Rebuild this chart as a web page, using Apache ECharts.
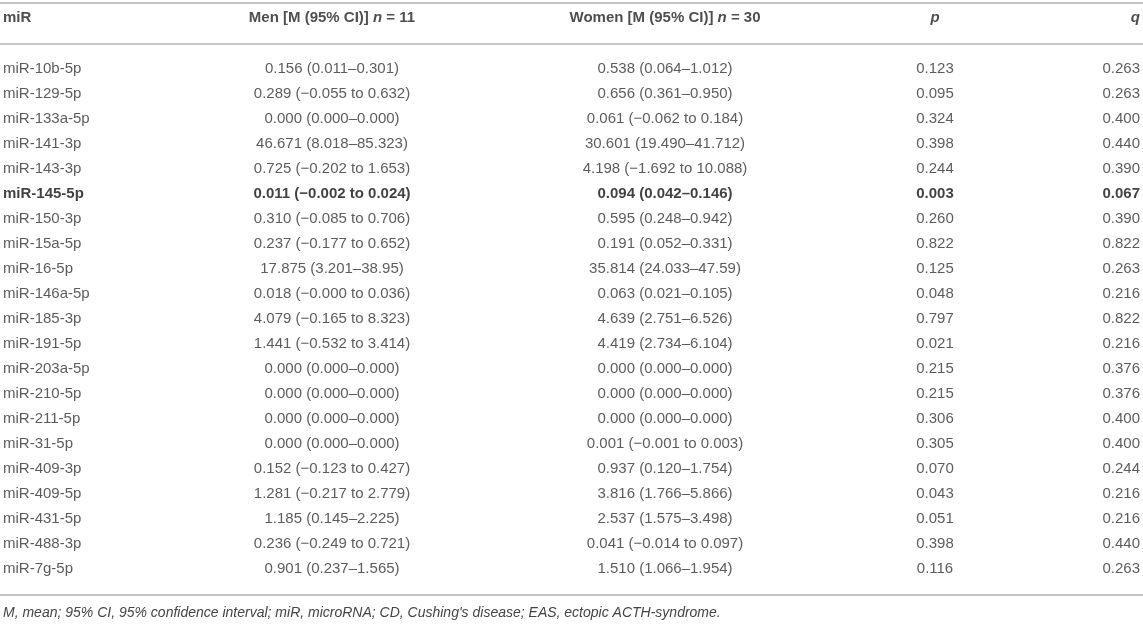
<!DOCTYPE html>
<html>
<head>
<meta charset="utf-8">
<script src="https://cdn.jsdelivr.net/npm/echarts@6/dist/echarts.min.js"></script>
<style>
  html, body { margin: 0; padding: 0; background: #fff; }
  #container { width: 1143px; height: 624px; }
</style>
</head>
<body>
<div id="container"></div>
<script>
// table data
var headers = ['miR', 'Men [M (95% CI)] {i|n} = 11', 'Women [M (95% CI)] {i|n} = 30', '{i|p}', '{i|q}'];

var mirs = ['miR-10b-5p', 'miR-129-5p', 'miR-133a-5p', 'miR-141-3p', 'miR-143-3p', 'miR-145-5p',
    'miR-150-3p', 'miR-15a-5p', 'miR-16-5p', 'miR-146a-5p', 'miR-185-3p', 'miR-191-5p',
    'miR-203a-5p', 'miR-210-5p', 'miR-211-5p', 'miR-31-5p', 'miR-409-3p', 'miR-409-5p',
    'miR-431-5p', 'miR-488-3p', 'miR-7g-5p'];

var men = ['0.156 (0.011–0.301)', '0.289 (−0.055 to 0.632)', '0.000 (0.000–0.000)', '46.671 (8.018–85.323)',
    '0.725 (−0.202 to 1.653)', '0.011 (−0.002 to 0.024)', '0.310 (−0.085 to 0.706)', '0.237 (−0.177 to 0.652)',
    '17.875 (3.201–38.95)', '0.018 (−0.000 to 0.036)', '4.079 (−0.165 to 8.323)', '1.441 (−0.532 to 3.414)',
    '0.000 (0.000–0.000)', '0.000 (0.000–0.000)', '0.000 (0.000–0.000)', '0.000 (0.000–0.000)',
    '0.152 (−0.123 to 0.427)', '1.281 (−0.217 to 2.779)', '1.185 (0.145–2.225)', '0.236 (−0.249 to 0.721)',
    '0.901 (0.237–1.565)'];

var women = ['0.538 (0.064–1.012)', '0.656 (0.361–0.950)', '0.061 (−0.062 to 0.184)', '30.601 (19.490–41.712)',
    '4.198 (−1.692 to 10.088)', '0.094 (0.042–0.146)', '0.595 (0.248–0.942)', '0.191 (0.052–0.331)',
    '35.814 (24.033–47.59)', '0.063 (0.021–0.105)', '4.639 (2.751–6.526)', '4.419 (2.734–6.104)',
    '0.000 (0.000–0.000)', '0.000 (0.000–0.000)', '0.000 (0.000–0.000)', '0.001 (−0.001 to 0.003)',
    '0.937 (0.120–1.754)', '3.816 (1.766–5.866)', '2.537 (1.575–3.498)', '0.041 (−0.014 to 0.097)',
    '1.510 (1.066–1.954)'];

var pVals = [0.123, 0.095, 0.324, 0.398, 0.244, 0.003, 0.260, 0.822, 0.125, 0.048, 0.797,
    0.021, 0.215, 0.215, 0.306, 0.305, 0.070, 0.043, 0.051, 0.398, 0.116];

var qVals = [0.263, 0.263, 0.400, 0.440, 0.390, 0.067, 0.390, 0.822, 0.263, 0.216, 0.822,
    0.216, 0.376, 0.376, 0.400, 0.400, 0.244, 0.216, 0.216, 0.440, 0.263];

var boldRows = ['miR-145-5p'];

var footnote = 'M, mean; 95% CI, 95% confidence interval; miR, microRNA; CD, Cushing\'s disease; EAS, ectopic ACTH-syndrome.';

// layout of the columns (x anchor + alignment)
var W = 1143;
var colX = [3, 332, 665, 935, 1140];
var colAlign = ['left', 'center', 'center', 'center', 'right'];
var FONT = '"Liberation Sans", Arial, Helvetica, sans-serif';

var columns = [
    mirs,
    men,
    women,
    pVals.map(function (v) { return v.toFixed(3); }),
    qVals.map(function (v) { return v.toFixed(3); })
];

var dom = document.getElementById('container');
var myChart = echarts.init(dom, null, { renderer: 'canvas' });

var series = [];

// header cells
for (var c = 0; c < headers.length; c++) {
    series.push({
        type: 'scatter',
        xAxisIndex: 0,
        yAxisIndex: 0,
        symbolSize: 0,
        silent: true,
        data: [[colX[c], 'header', headers[c]]],
        label: {
            show: true,
            position: 'inside',
            align: colAlign[c],
            formatter: function (params) { return params.value[2]; },
            color: '#222',
            fontFamily: FONT,
            fontSize: 15,
            fontWeight: 'bold',
            rich: {
                i: { fontStyle: 'italic', fontWeight: 'bold', fontSize: 15, fontFamily: FONT, color: '#222' }
            }
        }
    });
}

// body cells
for (var c = 0; c < columns.length; c++) {
    var data = [];
    for (var r = 0; r < mirs.length; r++) {
        var item = { value: [colX[c], mirs[r], columns[c][r]] };
        if (boldRows.indexOf(mirs[r]) >= 0) {
            item.label = { fontWeight: 'bold', color: '#111' };
        }
        data.push(item);
    }
    series.push({
        type: 'scatter',
        xAxisIndex: 1,
        yAxisIndex: 1,
        symbolSize: 0,
        silent: true,
        data: data,
        label: {
            show: true,
            position: 'inside',
            align: colAlign[c],
            formatter: function (params) { return params.value[2]; },
            color: '#333',
            fontFamily: FONT,
            fontSize: 15
        }
    });
}

var hiddenX = function (idx) {
    return { type: 'value', gridIndex: idx, min: 0, max: W, show: false };
};

var rule = function (y) {
    return { type: 'line', shape: { x1: 0, y1: y, x2: W, y2: y }, style: { stroke: '#c6c6c6', lineWidth: 2 }, silent: true };
};

option = {
    animation: false,
    backgroundColor: '#fff',
    title: {
        text: footnote,
        left: 1,
        top: 606,
        padding: [0, 2],
        textStyle: {
            fontFamily: FONT,
            fontSize: 14,
            fontStyle: 'italic',
            fontWeight: 'normal',
            color: '#444'
        }
    },
    grid: [
        { left: 0, right: 0, top: 3, height: 29 },
        { left: 0, right: 0, top: 56, height: 525 }
    ],
    xAxis: [hiddenX(0), hiddenX(1)],
    yAxis: [
        { type: 'category', gridIndex: 0, data: ['header'], show: false },
        { type: 'category', gridIndex: 1, data: mirs, inverse: true, show: false }
    ],
    graphic: [rule(3), rule(44), rule(595)],
    series: series
};

if (option && typeof option === 'object') {
    myChart.setOption(option, true);
}
</script>
</body>
</html>
